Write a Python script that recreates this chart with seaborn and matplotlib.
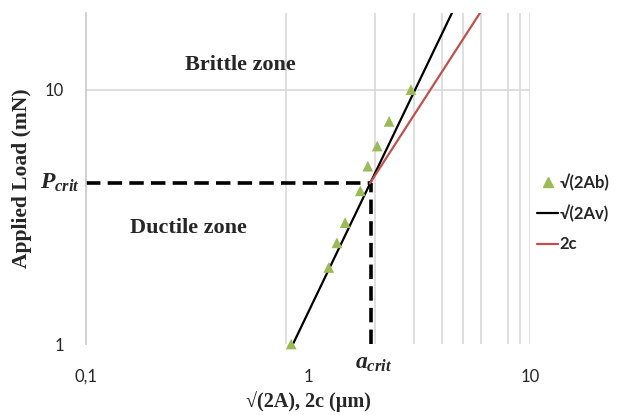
import numpy as np
import pandas as pd
import matplotlib
matplotlib.use('Agg')
import matplotlib.pyplot as plt
import matplotlib.transforms as mtransforms
from matplotlib.lines import Line2D
import seaborn as sns

# measured data (Vickers diagonal, load)
load_b = [1, 2, 2.5, 3, 4, 5, 6, 7.5, 10]
diag_b = [0.84, 1.24, 1.35, 1.47, 1.72, 1.86, 2.05, 2.32, 2.91]

# fitted power-law lines, end points
av_x = [0.856, 4.45]
av_y = [1.0, 20.0]
c_x = [1.90, 5.95]
c_y = [4.28, 20.0]

a_crit = 1.92
p_crit = 4.3

x_ticks = [0.1, 1, 10]
x_ticklabels = ['0,1', '1', '10']
y_ticks = [1, 10]
y_ticklabels = ['1', '10']

sns.set_style('white')
plt.rcParams['font.family'] = ['Lato', 'DejaVu Sans']
plt.rcParams['mathtext.fontset'] = 'custom'
plt.rcParams['mathtext.it'] = 'Liberation Serif:italic:bold'
plt.rcParams['mathtext.rm'] = 'Liberation Serif:bold'

serif = ['Liberation Serif', 'DejaVu Serif']

fig = plt.figure(figsize=(6.27, 4.15), dpi=100)
ax = fig.add_axes([86 / 627, 1 - 344 / 415, 444 / 627, 331 / 415])
ax.set_xscale('log')
ax.set_yscale('log')
ax.set_xlim(0.1, 10)
ax.set_ylim(1, 20)

# grid as it appears in the picture
for gx in [0.8, 2, 3, 4, 5, 6, 8, 9, 10]:
    ax.axvline(gx, color='#d9d9d9', lw=1.2, zorder=0)
ax.axhline(10, color='#d9d9d9', lw=1.2, zorder=0)

for s in ['top', 'right', 'bottom']:
    ax.spines[s].set_visible(False)
ax.spines['left'].set_color('#c8c8c8')
ax.spines['left'].set_linewidth(1.2)

# dashed critical lines
ax.plot([0.1, a_crit], [p_crit, p_crit], color='black', lw=2.6, ls=(0, (4, 2)), zorder=2)
ax.plot([a_crit, a_crit], [1, p_crit], color='black', lw=2.6, ls=(0, (4, 2)), zorder=2)

df_av = pd.DataFrame({'x': av_x, 'y': av_y})
df_c = pd.DataFrame({'x': c_x, 'y': c_y})
df_b = pd.DataFrame({'x': diag_b, 'y': load_b})
sns.lineplot(data=df_av, x='x', y='y', color='black', lw=1.6, ax=ax, zorder=3)
sns.lineplot(data=df_c, x='x', y='y', color='#c0504d', lw=1.6, ax=ax, zorder=3)
sns.scatterplot(data=df_b, x='x', y='y', marker='^', s=60, color='#9bbb59',
                edgecolor='none', ax=ax, zorder=4, clip_on=False)

ax.set_xticks(x_ticks)
ax.set_xticklabels(x_ticklabels, fontsize=12)
ax.set_yticks(y_ticks)
ax.set_yticklabels(y_ticklabels, fontsize=12)
ax.minorticks_off()
ax.tick_params(axis='x', length=0, pad=18)
ax.tick_params(axis='y', length=0, pad=16)

ax.set_xlabel('√(2A), 2c (µm)', fontsize=14.5, fontweight='bold', family=serif)
ax.set_ylabel('Applied Load (mN)', fontsize=15.5, fontweight='bold', family=serif)
ax.xaxis.label.set_va('bottom')
ax.xaxis.set_label_coords(0.5, -0.205)
ax.yaxis.label.set_va('center')
ax.yaxis.set_label_coords(-0.144, 0.5)

ax.text(0.347, 0.843, 'Brittle zone', transform=ax.transAxes, ha='center', va='center',
        fontsize=16, fontweight='bold', family=serif)
ax.text(0.23, 0.35, 'Ductile zone', transform=ax.transAxes, ha='center', va='center',
        fontsize=16, fontweight='bold', family=serif)

trans_p = mtransforms.blended_transform_factory(fig.transFigure, ax.transData)
fig.text(0.095, p_crit, r'$P_{crit}$', transform=trans_p, ha='center', va='center', fontsize=17)
trans_a = mtransforms.blended_transform_factory(ax.transData, ax.transAxes)
ax.text(a_crit * 1.03, -0.06, r'$a_{crit}$', transform=trans_a, ha='center', va='center', fontsize=17)

handles = [
    Line2D([], [], marker='^', color='#9bbb59', ls='none', markersize=7),
    Line2D([], [], color='black', lw=1.6),
    Line2D([], [], color='#c0504d', lw=1.6),
]
leg = fig.legend(handles, ['√(2Ab)', '√(2Av)', '2c'], loc='center left',
                 bbox_to_anchor=(534 / 627, 1 - 213 / 415), frameon=False,
                 prop={'size': 12, 'weight': 'bold'}, handlelength=1.25,
                 handletextpad=0.1, labelspacing=0.85, borderpad=0.2, borderaxespad=0)

fig.savefig('out.png', dpi=100)
